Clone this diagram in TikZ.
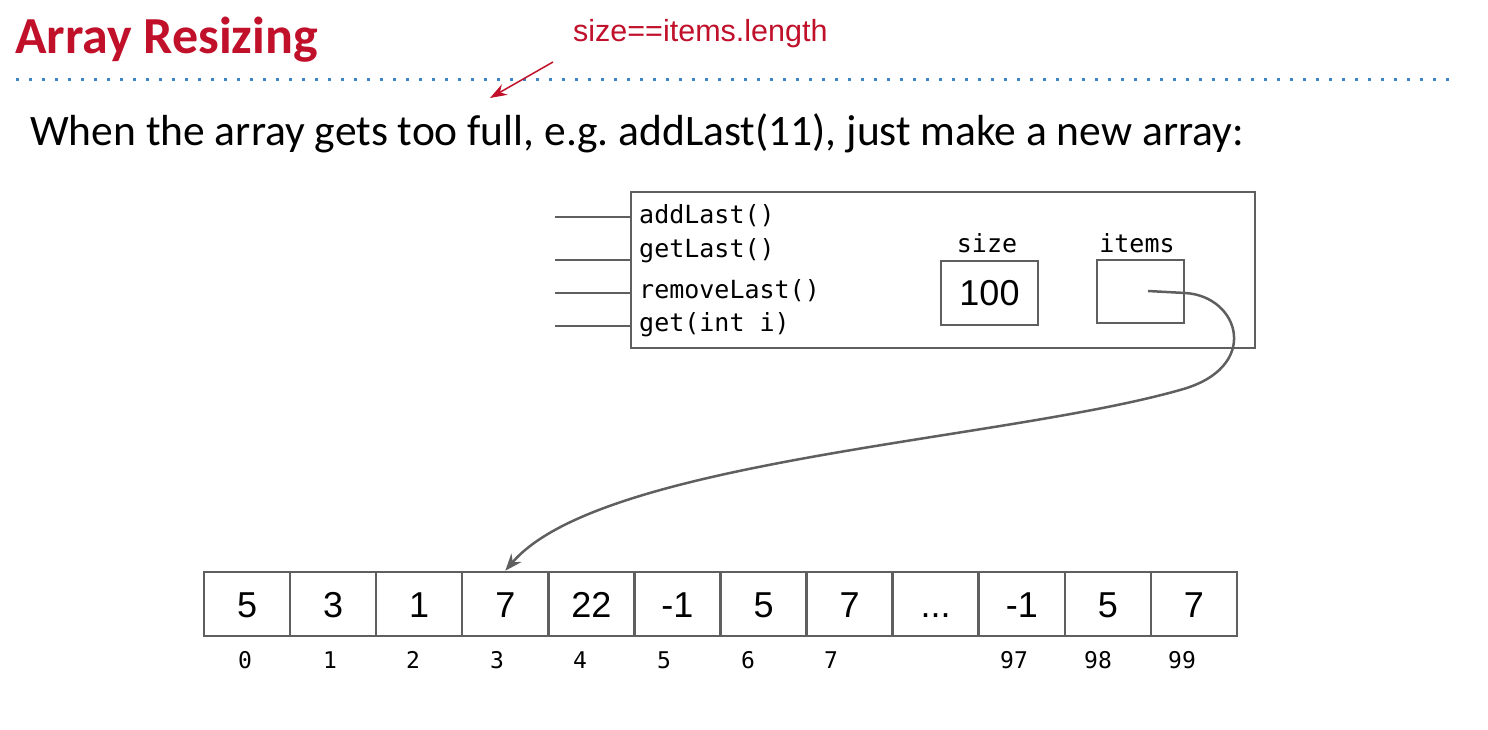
\documentclass[tikz,border=0pt]{standalone}
\usepackage{fontspec}
\setmainfont{Carlito}
\newfontfamily\arialf{Liberation Sans}
\newfontfamily\monof{DejaVu Sans Mono}
\usetikzlibrary{arrows.meta}
\frenchspacing
\newcommand\mydots{...}
\definecolor{linegray}{HTML}{5F5F5F}
\definecolor{titlered}{HTML}{C0102A}
\definecolor{dotblue}{HTML}{3D85C6}
\tikzset{
  box/.style={draw=linegray, line width=2.5pt, inner sep=0pt},
  cell/.style={box, minimum width=86.08pt, minimum height=64pt, text height=26pt, text depth=0pt, font=\arialf\fontsize{36}{40}\selectfont},
  meth/.style={anchor=base west, inner sep=0pt, font=\monof\fontsize{25}{28}\selectfont},
  lbl/.style={anchor=base, inner sep=0pt, font=\monof\fontsize{25}{28}\selectfont},
  idx/.style={anchor=base, inner sep=0pt, font=\monof\fontsize{23}{26}\selectfont},
  stub/.style={draw=linegray, line width=2.5pt},
  ptrarrow/.style={draw=linegray, line width=2.5pt, -{Stealth[length=17pt,width=13pt]}},
}
\begin{document}
\begin{tikzpicture}[x=1pt,y=-1pt]
\useasboundingbox (0,0) rectangle (1488,730);
% title
\node[anchor=base west, inner sep=0pt, text=titlered, font=\bfseries\fontsize{52}{60}\selectfont] (title) at (15,54) {Array Resizing};
\node[anchor=base west, inner sep=0pt, text=titlered, font=\arialf\fontsize{30.5}{34}\selectfont] (note) at (573,42) {size==items.length};
\draw[dotblue, line width=3pt, dash pattern=on 3pt off 10pt] (16,80) -- (1452,80);
\coordinate (nstart) at (553,62);
\coordinate (nend) at (490,98);
\draw[titlered, line width=1.5pt, -{Stealth[length=17pt,width=12pt]}] (nstart) -- (nend);
% sentence
\node[anchor=base west, inner sep=0pt, font=\fontsize{43.5}{48}\selectfont] (sent) at (30,146) {When the array gets too full, e.g. addLast(11), just make a new array:};
% object box
\node[box, minimum width=624pt, minimum height=156pt] (obj) at (943,270) {};
\foreach \y/\n in {217/1,260/2,293/3,326/4}{
  \coordinate (s\n) at (555,\y);
  \draw[stub] (s\n) -- (s\n -| obj.west);
}
\node[meth] (m1) at (639,224) {addLast()};
\node[meth] (m2) at (639,257) {getLast()};
\node[meth] (m3) at (639,298) {removeLast()};
\node[meth] (m4) at (639,331) {get(int i)};
\node[lbl] (sizel) at (987,252) {size};
\node[lbl] (itemsl) at (1137,252) {items};
\node[box, minimum width=97pt, minimum height=64pt, font=\arialf\fontsize{36}{40}\selectfont] (sizebox) at (989.5,293) {100};
\node[box, minimum width=87pt, minimum height=63pt] (itemsbox) at (1140.5,291.5) {};
\coordinate (ptr) at (1148,291);
% array
\foreach \v [count=\i from 0] in {5,3,1,7,22,-1,5,7,\mydots,-1,5,7}{
  \node[cell] (c\i) at ({204+86.08*(\i+0.5)},604) {\v};
}
\foreach \t/\x in {0/245,1/330,2/413,3/497,4/580,5/664,6/748,7/831,97/1014,98/1098,99/1182}{
  \node[idx] (i\t) at (\x,668) {\t};
}
% pointer arrow
\draw[ptrarrow] (ptr) -- (1185,293) .. controls (1240,296) and (1262,368) .. (1180,390)
   .. controls (1000,441) and (600,460) .. (c3.north);
\end{tikzpicture}
\end{document}
